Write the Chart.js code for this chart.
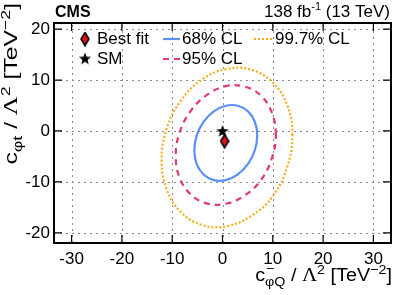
<!DOCTYPE html>
<html>
<head>
<meta charset="utf-8">
<script src="https://cdn.jsdelivr.net/npm/chart.js@4"></script>
<style>
  html, body { margin: 0; padding: 0; background: #fff; }
  #wrap { position: relative; width: 399px; height: 295px; }
</style>
</head>
<body>
<div id="wrap"><canvas id="chart"></canvas></div>
<script>
// contour points (x = c_phiQ-, y = c_phit), going round each contour
var cl68X = [6.9, 6.43, 5.07, 3.04, 0.65, -1.74, -3.77, -5.13, -5.6, -5.13, -3.77, -1.74, 0.65, 3.04, 5.07, 6.43];
var cl68Y = [-0.88, 1.81, 3.85, 4.96, 4.95, 3.84, 1.77, -0.91, -3.82, -6.51, -8.55, -9.66, -9.65, -8.54, -6.47, -3.79];

var cl95X = [10.6, 9.84, 7.68, 4.46, 0.65, -3.16, -6.38, -8.54, -9.3, -8.54, -6.38, -3.16, 0.65, 4.46, 7.68, 9.84];
var cl95Y = [-0.7, 3.54, 6.9, 8.7, 8.8, 7.03, 3.85, -0.34, -4.9, -9.14, -12.41, -14.23, -14.3, -12.63, -9.6, -5.26];

var cl997X = [13.9, 12.91, 10.09, 5.88, 0.9, -4.08, -8.29, -11.11, -12.1, -11.11, -8.29, -4.08, 0.9, 5.88, 10.09, 12.91];
var cl997Y = [-0.79, 4.94, 9.41, 11.97, 12.2, 10.09, 5.93, 0.4, -5.71, -11.44, -15.91, -18.47, -18.7, -16.59, -12.7, -6.9];

var bestFit = [0.4, -2.0];
var smPoint = [0.0, 0.0];

var xTicks = [-30, -20, -10, 0, 10, 20, 30];
var yTicks = [-20, -10, 0, 10, 20];

var blue = '#5b8ff9', pink = '#e2367f', orange = '#f7ad1b';
var sans = '"Liberation Sans", Arial, sans-serif';
var serif = '"Liberation Serif", "Times New Roman", serif';

// closed loop: one extra point on each end so the spline has neighbours, end segments hidden
function loop(xs, ys) {
    var n = xs.length;
    var out = [{ x: xs[n - 1], y: ys[n - 1] }];
    for (var i = 0; i <= n + 1; i++) {
        out.push({ x: xs[i % n], y: ys[i % n] });
    }
    return out;
}
function hideEnds(n) {
    return {
        borderColor: function (c) {
            return (c.p0DataIndex === 0 || c.p0DataIndex === n + 1) ? 'rgba(0,0,0,0)' : undefined;
        }
    };
}

// marker images
function diamondImg() {
    var c = document.createElement('canvas');
    c.width = 10; c.height = 15;
    var g = c.getContext('2d');
    g.beginPath();
    g.moveTo(5, 1); g.lineTo(9, 7.5); g.lineTo(5, 14); g.lineTo(1, 7.5); g.closePath();
    g.fillStyle = '#e3101a'; g.fill();
    g.lineWidth = 1.6; g.strokeStyle = '#000'; g.stroke();
    return c;
}
function starImg() {
    var c = document.createElement('canvas');
    c.width = 14; c.height = 14;
    var g = c.getContext('2d');
    g.beginPath();
    for (var i = 0; i < 10; i++) {
        var r = i % 2 ? 2.7 : 6.5;
        var a = -Math.PI / 2 + i * Math.PI / 5;
        g.lineTo(7 + r * Math.cos(a), 7.5 + r * Math.sin(a));
    }
    g.closePath();
    g.fillStyle = '#000'; g.fill();
    return c;
}
var diamond = diamondImg();
var star = starImg();

// text made of pieces with sub/superscripts, right aligned at (0,0) of current transform
function richRight(ctx, parts) {
    var w = 0;
    parts.forEach(function (p) {
        ctx.font = p.font;
        w += p.stack ? Math.max(ctx.measureText(p.sup).width, ctx.measureText(p.sub).width)
                     : ctx.measureText(p.t).width;
    });
    var cx = -w;
    ctx.textAlign = 'left';
    ctx.textBaseline = 'alphabetic';
    parts.forEach(function (p) {
        ctx.font = p.font;
        if (p.stack) {
            ctx.fillText(p.sup, cx + 1, p.supDy);
            ctx.fillText(p.sub, cx, p.subDy);
            cx += Math.max(ctx.measureText(p.sup).width, ctx.measureText(p.sub).width);
        } else {
            ctx.fillText(p.t, cx, p.dy || 0);
            cx += ctx.measureText(p.t).width;
        }
    });
}

var big = '18px ' + sans, small = '13px ' + sans, lam = '19px ' + serif;

var xTitle = [
    { t: 'c', font: big },
    { stack: true, sup: '\u2212', sub: '\u03c6Q', supDy: -8, subDy: 5, font: small },
    { t: ' / ', font: big },
    { t: '\u039b', font: lam },
    { t: '2', font: small, dy: -7 },
    { t: ' [TeV', font: big },
    { t: '\u22122', font: small, dy: -7 },
    { t: ']', font: big }
];
var yTitle = [
    { t: 'c', font: big },
    { t: '\u03c6t', font: small, dy: 5 },
    { t: ' / ', font: big },
    { t: '\u039b', font: lam },
    { t: '2', font: small, dy: -7 },
    { t: ' [TeV', font: big },
    { t: '\u22122', font: small, dy: -7 },
    { t: ']', font: big }
];

var grid = {
    id: 'dotgrid',
    beforeDatasetsDraw: function (chart) {
        var ctx = chart.ctx, a = chart.chartArea;
        var xs = chart.scales.x, ys = chart.scales.y;
        ctx.save();
        ctx.strokeStyle = '#8a8a8a';
        ctx.lineWidth = 1;
        ctx.setLineDash([2, 4]);
        ctx.beginPath();
        xTicks.forEach(function (v) {
            var p = Math.round(xs.getPixelForValue(v)) + 0.5;
            ctx.moveTo(p, a.bottom); ctx.lineTo(p, a.top);
        });
        yTicks.forEach(function (v) {
            var p = Math.round(ys.getPixelForValue(v)) + 0.5;
            ctx.moveTo(a.left, p); ctx.lineTo(a.right, p);
        });
        ctx.stroke();
        ctx.restore();
    }
};

var decor = {
    id: 'decor',
    afterDraw: function (chart) {
        var ctx = chart.ctx, a = chart.chartArea;
        var xs = chart.scales.x, ys = chart.scales.y;
        ctx.save();
        // inner tick marks
        ctx.strokeStyle = '#000';
        ctx.lineWidth = 1.2;
        ctx.beginPath();
        xTicks.forEach(function (v) {
            var p = xs.getPixelForValue(v);
            ctx.moveTo(p, a.bottom); ctx.lineTo(p, a.bottom - 8);
            ctx.moveTo(p, a.top); ctx.lineTo(p, a.top + 8);
        });
        yTicks.forEach(function (v) {
            var p = ys.getPixelForValue(v);
            ctx.moveTo(a.left, p); ctx.lineTo(a.left + 8, p);
            ctx.moveTo(a.right, p); ctx.lineTo(a.right - 8, p);
        });
        ctx.stroke();
        // frame
        ctx.lineWidth = 2;
        ctx.strokeRect(a.left, a.top, a.right - a.left, a.bottom - a.top);

        ctx.fillStyle = '#000';
        // header
        ctx.font = 'bold 16px ' + sans;
        ctx.textAlign = 'left';
        ctx.textBaseline = 'alphabetic';
        ctx.fillText('CMS', 55, 17);
        ctx.save();
        ctx.translate(390, 17);
        richRight(ctx, [
            { t: '138 fb', font: '17px ' + sans },
            { t: '-1', font: '11px ' + sans, dy: -7 },
            { t: ' (13 TeV)', font: '17px ' + sans }
        ]);
        ctx.restore();

        // axis titles
        ctx.save();
        ctx.translate(392, 281);
        ctx.scale(1.1, 1);
        richRight(ctx, xTitle);
        ctx.restore();
        ctx.save();
        ctx.translate(17, 3);
        ctx.rotate(-Math.PI / 2);
        ctx.scale(1.37, 1);
        richRight(ctx, yTitle);
        ctx.restore();

        // legend
        ctx.font = '17px ' + sans;
        ctx.textBaseline = 'middle';
        ctx.textAlign = 'left';
        ctx.drawImage(diamond, 85 - 5, 39 - 7.5);
        ctx.fillText('Best fit', 97, 39);
        ctx.drawImage(star, 85 - 7, 59 - 7.5);
        ctx.fillText('SM', 97, 59);
        ctx.fillText('68% CL', 182, 39);
        ctx.fillText('95% CL', 182, 59);
        ctx.fillText('99.7% CL', 275, 39);
        ctx.lineWidth = 2.2;
        ctx.strokeStyle = blue;
        ctx.beginPath(); ctx.moveTo(163, 39); ctx.lineTo(180, 39); ctx.stroke();
        ctx.strokeStyle = pink;
        ctx.setLineDash([6, 5]);
        ctx.beginPath(); ctx.moveTo(163, 59); ctx.lineTo(180, 59); ctx.stroke();
        ctx.strokeStyle = orange;
        ctx.setLineDash([2, 2]);
        ctx.beginPath(); ctx.moveTo(254, 39); ctx.lineTo(273, 39); ctx.stroke();
        ctx.restore();
    }
};

function contour(label, xs, ys, color, dash) {
    return {
        label: label,
        data: loop(xs, ys),
        showLine: true,
        borderColor: color,
        borderWidth: 2.2,
        borderDash: dash,
        pointRadius: 0,
        tension: 0.4,
        segment: hideEnds(xs.length)
    };
}

var chart = new Chart(document.getElementById('chart').getContext('2d'), {
    type: 'scatter',
    data: {
        datasets: [
            contour('99.7% CL', cl997X, cl997Y, orange, [2, 2]),
            contour('95% CL', cl95X, cl95Y, pink, [6, 5]),
            contour('68% CL', cl68X, cl68Y, blue, []),
            {
                label: 'SM',
                data: [{ x: smPoint[0], y: smPoint[1] }],
                pointStyle: star,
                pointRadius: 7
            },
            {
                label: 'Best fit',
                data: [{ x: bestFit[0], y: bestFit[1] }],
                pointStyle: diamond,
                pointRadius: 7
            }
        ]
    },
    options: {
        responsive: true,
        maintainAspectRatio: false,
        animation: false,
        layout: { padding: { left: 0, top: 23, right: 7, bottom: 0 } },
        plugins: {
            legend: { display: false },
            tooltip: { enabled: false }
        },
        scales: {
            x: {
                type: 'linear',
                min: -33.5,
                max: 33.5,
                afterBuildTicks: function (s) { s.ticks = xTicks.map(function (v) { return { value: v }; }); },
                afterFit: function (s) { s.height = 52; },
                border: { display: false },
                grid: { display: false, drawTicks: false },
                ticks: { color: '#000', font: { family: sans, size: 17 }, padding: 6, maxRotation: 0 }
            },
            y: {
                type: 'linear',
                min: -22,
                max: 21.2,
                afterBuildTicks: function (s) { s.ticks = yTicks.map(function (v) { return { value: v }; }); },
                afterFit: function (s) { s.width = 54; },
                border: { display: false },
                grid: { display: false, drawTicks: false },
                ticks: { color: '#000', font: { family: sans, size: 17 }, padding: 4 }
            }
        }
    },
    plugins: [grid, decor]
});
</script>
</body>
</html>
